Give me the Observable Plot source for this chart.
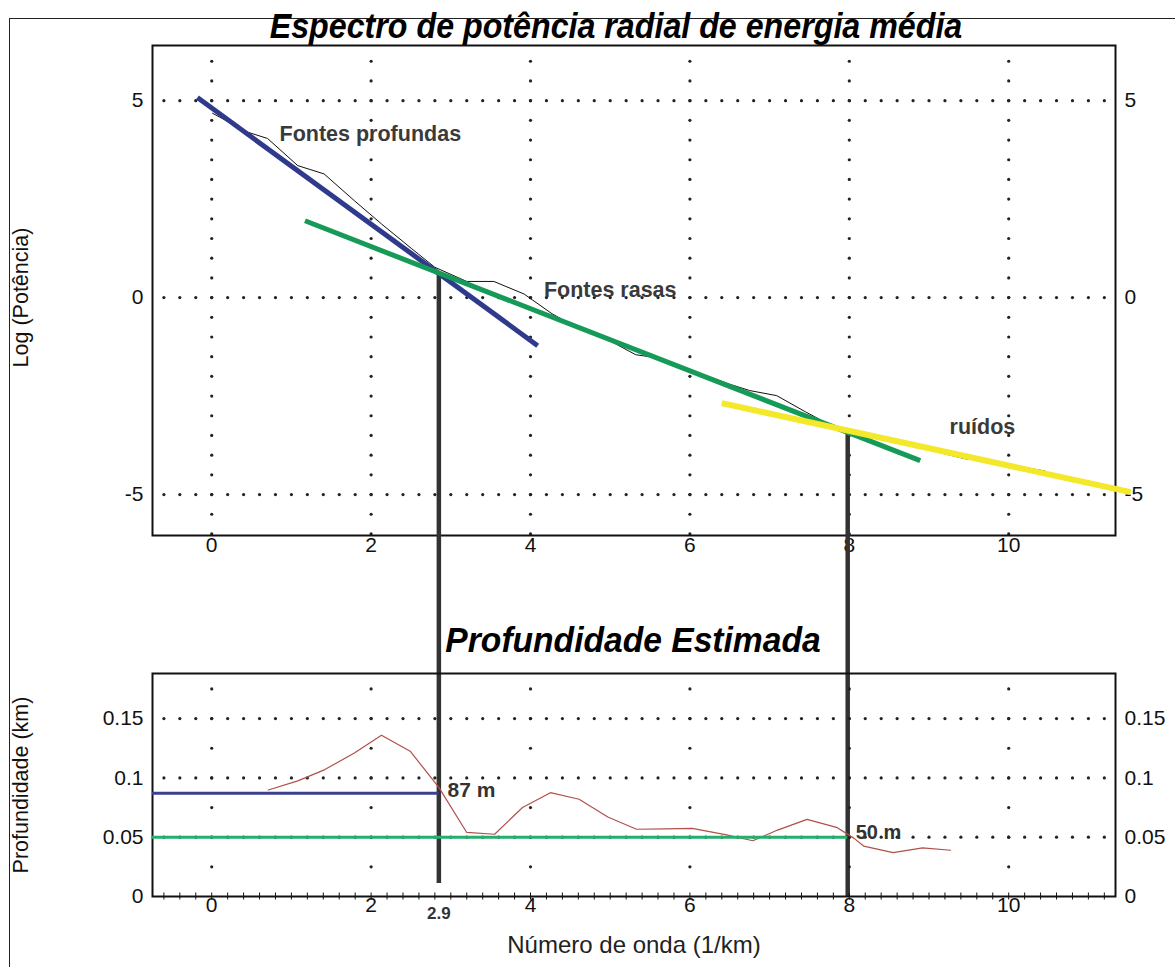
<!DOCTYPE html>
<html><head><meta charset="utf-8">
<script src="https://cdn.jsdelivr.net/npm/d3@7"></script>
<script src="https://cdn.jsdelivr.net/npm/@observablehq/plot@0.6"></script>
<style>
body{margin:0;background:#fff;}
#fig{position:relative;width:1175px;height:967px;overflow:hidden;background:#fff;font-family:"Liberation Sans",Arial,sans-serif;}
.abs{position:absolute;}
.title{font-family:"Liberation Sans",Arial,sans-serif;font-weight:bold;font-style:italic;color:#000;white-space:nowrap;line-height:1;transform-origin:0 0;}
</style></head><body>
<div id="fig">
  <div class="abs" style="left:9px;top:18px;width:1200px;height:1000px;border-left:1.5px solid #222;border-top:1.5px solid #222;"></div>
  <div id="top" class="abs" style="left:0;top:0;"></div>
  <div id="bottom" class="abs" style="left:0;top:600px;"></div>
  <div class="abs title" style="left:616px;top:8px;font-size:35px;transform:scaleX(0.92) translateX(-50%);">Espectro de potência radial de energia média</div>
  <div class="abs title" style="left:633px;top:622px;font-size:35px;transform:scaleX(0.96) translateX(-50%);">Profundidade Estimada</div>
</div>
<script>
// ---------- data ----------
const xTicks = [0, 2, 4, 6, 8, 10];
const topYTicks = [-5, 0, 5];
const bottomYTicks = [0, 0.05, 0.1, 0.15];

// radial power spectrum (log power vs wave number)
const waveNumber = [0.01, 0.45, 0.70, 1.08, 1.41, 1.79, 2.13, 2.51, 2.80, 3.20, 3.54, 3.92, 4.27, 4.61, 4.99, 5.32, 5.49, 5.85, 6.20, 6.50, 6.75, 7.09, 7.45, 7.81, 8.02, 8.40, 8.80, 9.10, 9.45, 9.66, 10.0, 10.3, 10.45];
const logPower   = [4.68, 4.20, 4.04, 3.35, 3.14, 2.46, 1.87, 1.24, 0.77, 0.41, 0.41, 0.09, -0.41, -0.79, -1.09, -1.45, -1.50, -1.72, -1.98, -2.20, -2.36, -2.49, -2.90, -3.29, -3.38, -3.55, -3.76, -3.92, -4.09, -4.14, -4.22, -4.35, -4.40];

// fitted segments
const deepFitK = [-0.18, 4.09], deepFitP = [5.08, -1.22];
const shallowFitK = [1.17, 8.89], shallowFitP = [1.95, -4.14];
const noiseFitK = [6.40, 11.53], noiseFitP = [-2.68, -4.94];

// cut-off wave numbers (intersections) and their labels
const cutoffK = [2.85, 7.98];
const cutoffLogP = [0.62, -3.40];
const cutoffDepthEnd = [0.011, 0];
const cutoffLabel = ["2.9", ""];

// estimated depth curve
const depthK  = [0.71, 1.08, 1.42, 1.79, 2.13, 2.49, 2.85, 3.20, 3.55, 3.90, 4.25, 4.61, 4.97, 5.33, 5.70, 6.03, 6.46, 6.79, 7.10, 7.47, 7.85, 8.06, 8.18, 8.55, 8.92, 9.27];
const depthKm = [0.0898, 0.0975, 0.107, 0.121, 0.136, 0.1225, 0.092, 0.054, 0.0525, 0.075, 0.0875, 0.082, 0.067, 0.0567, 0.057, 0.0575, 0.052, 0.047, 0.056, 0.065, 0.058, 0.049, 0.0425, 0.037, 0.041, 0.039];

// mean depths
const deepDepth = 0.087, shallowDepth = 0.050;
const deepDepthLabel = "87 m", shallowDepthLabel = "50 m";

// region annotations
const regionNames = ["Fontes profundas", "Fontes rasas", "ruídos"];
const regionK = [1.99, 5.0, 9.67];
const regionP = [4.16, 0.2, -3.3];

// axis titles
const topYTitle = "Log (Potência)";
const botYTitle = "Profundidade (km)";
const xTitle = "Número de onda (1/km)";

// ---------- layout ----------
const W = 1175;
const xDomain = [-0.743, 11.34];
const topYDomain = [-6.04, 6.4];
const botYDomain = [0, 0.188];
const topTop = 0, topH = 580, topMT = 45, topMB = 45;
const botTop = 600, botH = 367, botMT = 73, botMB = 71;
const mL = 152, mR = 60;
const FS = 21;

const baseStyle = {fontFamily: "'Liberation Sans', Arial, sans-serif", fontSize: FS + "px", color: "#111", background: "transparent", overflow: "visible"};

const fmt = d => String(d);
const gridRow = (ys, step) => d3.cross(d3.range(-0.6, 11.25, step).map(v => +v.toFixed(2)), ys).map(([x, y]) => ({x, y}));
const gridCol = (ys) => d3.cross(xTicks, ys).map(([x, y]) => ({x, y}));

const topRowDots = gridRow(topYTicks, 0.2);
const topColDots = gridCol(d3.range(-6, 6.01, 0.5).map(v => +v.toFixed(2)));
const botRowDots = gridRow([0.05, 0.1, 0.15], 0.2);
const botColDots = gridCol(d3.range(0.025, 0.19, 0.025).map(v => +v.toFixed(3)));

const spectrum = waveNumber.map((k, i) => ({k, p: logPower[i]}));
const seg = (ks, ps) => ks.map((k, i) => ({k, p: ps[i]}));
const depth = depthK.map((k, i) => ({k, d: depthKm[i]}));

// connectors: from the intersection in the upper panel down into the lower panel
const topYpx = d3.scaleLinear(topYDomain, [topTop + topH - topMB, topTop + topMT]);
const botYpx = d3.scaleLinear(botYDomain, [botTop + botH - botMB, botTop + botMT]);
const connectors = cutoffK.map((k, i) => ({k, p1: cutoffLogP[i], p2: topYpx.invert(botYpx(cutoffDepthEnd[i]))}));

const topPlot = Plot.plot({
  width: W, height: topH,
  marginTop: topMT, marginBottom: topMB, marginLeft: mL, marginRight: mR,
  x: {domain: xDomain},
  y: {domain: topYDomain},
  style: baseStyle,
  marks: [
    Plot.dot(topRowDots, {x: "x", y: "y", r: 1.6, fill: "#222", stroke: null}),
    Plot.dot(topColDots, {x: "x", y: "y", r: 1.6, fill: "#222", stroke: null}),
    Plot.axisX({ticks: xTicks, tickSize: 0, tickPadding: 2, tickFormat: fmt, label: null, fontSize: FS}),
    Plot.axisY({anchor: "left", ticks: topYTicks, tickSize: 0, tickPadding: 9, tickFormat: fmt, fontSize: FS, label: null}),
    Plot.axisY({anchor: "right", ticks: topYTicks, tickSize: 0, tickPadding: 9, tickFormat: fmt, label: null, fontSize: FS}),
    Plot.text([topYTitle], {frameAnchor: "left", dx: -131, dy: 7, rotate: -90, textAnchor: "middle", text: d => d, fontSize: 21.5, fill: "#111"}),
    Plot.frame({stroke: "#111", strokeWidth: 2}),
    Plot.ruleX(connectors, {x: "k", y1: "p1", y2: "p2", stroke: "#333", strokeWidth: 4.5}),
    Plot.line(spectrum, {x: "k", y: "p", stroke: "#111", strokeWidth: 1}),
    Plot.line(seg(deepFitK, deepFitP), {x: "k", y: "p", stroke: "#2f3a8c", strokeWidth: 5, strokeLinecap: "butt"}),
    Plot.line(seg(shallowFitK, shallowFitP), {x: "k", y: "p", stroke: "#159a57", strokeWidth: 5, strokeLinecap: "butt"}),
    Plot.line(seg(noiseFitK, noiseFitP), {x: "k", y: "p", stroke: "#f3e82a", strokeWidth: 6, strokeLinecap: "butt"}),
    Plot.text(regionNames, {x: (d, i) => regionK[i], y: (d, i) => regionP[i], text: d => d,
      fontWeight: "bold", fontSize: 21.5, fill: "#3a3a3a"})
  ]
});
document.getElementById("top").appendChild(topPlot);

const botPlot = Plot.plot({
  width: W, height: botH,
  marginTop: botMT, marginBottom: botMB, marginLeft: mL, marginRight: mR,
  x: {domain: xDomain},
  y: {domain: botYDomain},
  style: baseStyle,
  marks: [
    Plot.dot(botRowDots, {x: "x", y: "y", r: 1.6, fill: "#222", stroke: null}),
    Plot.dot(botColDots, {x: "x", y: "y", r: 1.6, fill: "#222", stroke: null}),
    Plot.axisX({ticks: d3.range(-0.6, 11.25, 0.2).map(v => +v.toFixed(2)), tickSize: 7, dy: -3.5, tickFormat: () => "", label: null}),
    Plot.axisX({ticks: xTicks, tickSize: 0, tickPadding: 1, tickFormat: fmt, fontSize: FS, label: null}),
    Plot.axisY({anchor: "left", ticks: bottomYTicks, tickSize: 0, tickPadding: 9, tickFormat: fmt, fontSize: FS, label: null}),
    Plot.axisY({anchor: "right", ticks: bottomYTicks, tickSize: 0, tickPadding: 9, tickFormat: fmt, label: null, fontSize: FS}),
    Plot.text([botYTitle], {frameAnchor: "left", dx: -131, dy: 0, rotate: -90, textAnchor: "middle", text: d => d, fontSize: 21.5, fill: "#111"}),
    Plot.text([xTitle], {frameAnchor: "bottom", dy: 56, text: d => d, fontSize: 24, fill: "#222"}),
    Plot.frame({stroke: "#111", strokeWidth: 2}),
    Plot.line(depth, {x: "k", y: "d", stroke: "#b0504a", strokeWidth: 1.2}),
    Plot.ruleY([deepDepth], {x1: xDomain[0], x2: cutoffK[0], stroke: "#3b3f8f", strokeWidth: 3}),
    Plot.ruleY([shallowDepth], {x1: xDomain[0], x2: cutoffK[1], stroke: "#27ae6c", strokeWidth: 3}),
    Plot.text([deepDepthLabel], {x: 2.96, y: 0.0894, text: d => d, textAnchor: "start", fontWeight: "bold", fontSize: 21, fill: "#333"}),
    Plot.text([shallowDepthLabel], {x: 8.08, y: 0.054, text: d => d, textAnchor: "start", fontWeight: "bold", fontSize: 20, fill: "#333"}),
    Plot.text(cutoffLabel, {x: (d, i) => cutoffK[i], y: 0, text: d => d, dy: 17, fontWeight: "bold", fontSize: 17, fill: "#333"})
  ]
});
document.getElementById("bottom").appendChild(botPlot);
</script>
</body></html>
